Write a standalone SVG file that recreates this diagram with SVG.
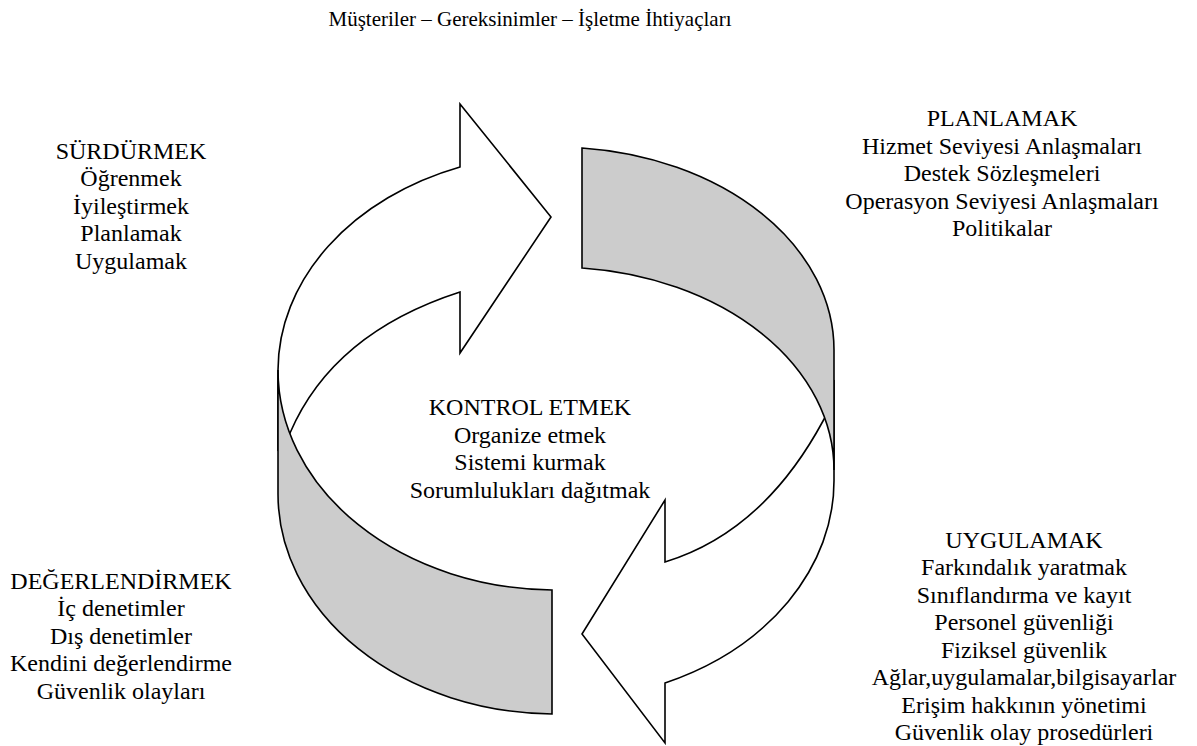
<svg xmlns="http://www.w3.org/2000/svg" width="1197" height="746" viewBox="0 0 1197 746">
<style>
.arrow{fill:#ffffff;stroke:#000000;stroke-width:1.6;stroke-linejoin:miter}
.band{fill:#cccccc;stroke:#000000;stroke-width:1.6;stroke-linejoin:miter}
text{font-family:"Liberation Serif","Times New Roman",serif;font-size:24px;fill:#000000;text-anchor:middle}
.title{font-size:21px}
</style>
<rect width="1197" height="746" fill="#ffffff"/>
<g id="connectors">
<path id="arrow-top" class="arrow" d="M 278 450 L 278 370 A 278 217 0 0 1 460 167 L 460 104 L 551 217 L 460 353 L 460 292 Q 333 333 290 433 L 284 447 Z"/>
<path id="arrow-bottom" class="arrow" d="M 834 380 L 834 480 A 278 220 0 0 1 665 683 L 665 743 L 582 634 L 665 500 L 665 562 Q 763 532 823 421 L 828 412 Z"/>
<path id="band-right" class="band" d="M 582 148 A 278 203 0 0 1 834 350 L 834 470 A 278 203 0 0 0 582 268 Z"/>
<path id="band-left" class="band" d="M 278 370 L 278 494 A 278 220 0 0 0 552 714 L 552 590 A 278 220 0 0 1 278 370 Z"/>
</g>
<g id="title"><text class="title" x="530" y="26">Müşteriler – Gereksinimler – İşletme İhtiyaçları</text></g>
<g id="surdurmek">
<text x="131" y="158.5">SÜRDÜRMEK</text>
<text x="131" y="186">Öğrenmek</text>
<text x="131" y="213.5">İyileştirmek</text>
<text x="131" y="241">Planlamak</text>
<text x="131" y="268.5">Uygulamak</text>
</g>
<g id="planlamak">
<text x="1002" y="126">PLANLAMAK</text>
<text x="1002" y="153.5">Hizmet Seviyesi Anlaşmaları</text>
<text x="1002" y="181">Destek Sözleşmeleri</text>
<text x="1002" y="208.5">Operasyon Seviyesi Anlaşmaları</text>
<text x="1002" y="236">Politikalar</text>
</g>
<g id="kontrol">
<text x="530" y="415">KONTROL ETMEK</text>
<text x="530" y="442.5">Organize etmek</text>
<text x="530" y="470">Sistemi kurmak</text>
<text x="530" y="497.5">Sorumlulukları dağıtmak</text>
</g>
<g id="degerlendirmek">
<text x="121" y="588.5">DEĞERLENDİRMEK</text>
<text x="121" y="616">İç denetimler</text>
<text x="121" y="643.5">Dış denetimler</text>
<text x="121" y="671">Kendini değerlendirme</text>
<text x="121" y="698.5">Güvenlik olayları</text>
</g>
<g id="uygulamak">
<text x="1024" y="547.5">UYGULAMAK</text>
<text x="1024" y="575">Farkındalık yaratmak</text>
<text x="1024" y="602.5">Sınıflandırma ve kayıt</text>
<text x="1024" y="630">Personel güvenliği</text>
<text x="1024" y="657.5">Fiziksel güvenlik</text>
<text x="1024" y="685">Ağlar,uygulamalar,bilgisayarlar</text>
<text x="1024" y="712.5">Erişim hakkının yönetimi</text>
<text x="1024" y="740">Güvenlik olay prosedürleri</text>
</g>
</svg>
